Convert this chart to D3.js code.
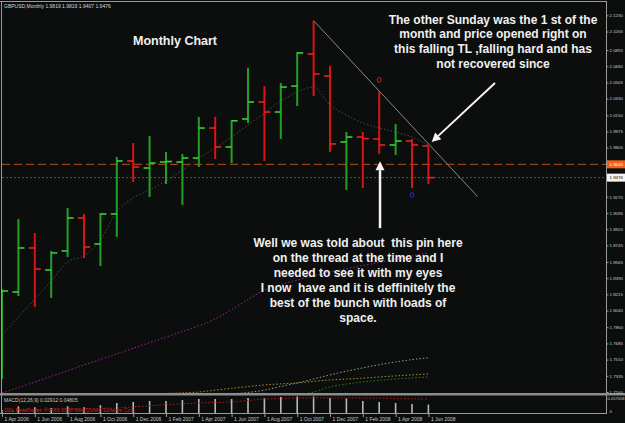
<!DOCTYPE html>
<html>
<head>
<meta charset="utf-8">
<script src="https://cdn.jsdelivr.net/npm/d3@7"></script>
<style>
html,body{margin:0;padding:0;background:#0c0e0d;}
svg{display:block;font-family:"Liberation Sans",Arial,sans-serif;}
</style>
</head>
<body>
<svg id="chart" width="625" height="423"></svg>
<script>
var width = 625;
var height = 423;

// monthly GBPUSD bars, Apr 2006 .. Jun 2008
var months = ["Apr 2006","May 2006","Jun 2006","Jul 2006","Aug 2006","Sep 2006","Oct 2006","Nov 2006","Dec 2006",
              "Jan 2007","Feb 2007","Mar 2007","Apr 2007","May 2007","Jun 2007","Jul 2007","Aug 2007","Sep 2007",
              "Oct 2007","Nov 2007","Dec 2007","Jan 2008","Feb 2008","Mar 2008","Apr 2008","May 2008","Jun 2008"];
var opens  = [1.7390,1.8241,1.8716,1.8478,1.8684,1.9040,1.8759,1.9083,1.9656,1.9580,1.9645,1.9645,1.9688,2.0012,
              1.9807,2.0110,2.0293,2.0185,2.0465,2.0812,2.0574,1.9861,1.9915,1.9894,1.9829,1.9872,1.9819];
var highs  = [1.8270,1.9029,1.8878,1.8684,1.9148,1.9083,1.9094,1.9699,1.9850,1.9926,1.9753,1.9731,2.0131,2.0131,
              2.0100,2.0661,2.0465,2.0498,2.0833,2.1172,2.0682,1.9969,1.9969,2.0412,2.0056,1.9894,1.9819];
var lows   = [1.7300,1.8197,1.8079,1.8176,1.8619,1.8608,1.8521,1.8835,1.9429,1.9267,1.9407,1.9181,1.9591,1.9677,
              1.9634,2.0066,1.9656,1.9894,2.0250,2.0358,1.9753,1.9343,1.9364,1.9732,1.9721,1.9364,1.9407];
var closes = [1.8251,1.8716,1.8489,1.8663,1.9040,1.8727,1.9083,1.9656,1.9591,1.9634,1.9650,1.9688,2.0012,1.9807,
              2.0090,2.0293,2.0185,2.0455,2.0823,2.0596,1.9840,1.9915,1.9898,1.9829,1.9872,1.9829,1.9476];

// indicator lines (one value per month)
var maFast   = [1.7776,1.7970,1.8165,1.8360,1.8565,1.8630,1.8802,1.9105,1.9256,1.9343,1.9440,1.9559,1.9688,1.9796,
                1.9915,2.0045,2.0174,2.0304,2.0401,2.0455,2.0261,2.0153,2.0066,2.0012,1.9969,1.9915,1.9829];
var maPurple = [1.7149,1.7207,1.7268,1.7329,1.7390,1.7452,1.7512,1.7572,1.7632,1.7693,1.7753,1.7814,1.7875,1.7950,
                1.8050,1.8160,1.8260,1.8320,1.8370,1.8414,1.8457,1.8491,1.8526,1.8560,1.8595,1.8630,1.8664];
var maGray   = [1.660,1.665,1.670,1.675,1.680,1.685,1.690,1.695,1.700,1.704,1.707,1.709,1.711,1.713,
                1.714,1.7155,1.7180,1.7220,1.7258,1.7300,1.7345,1.7385,1.7420,1.7455,1.7485,1.7510,1.7530];
var maYellow = [1.690,1.693,1.696,1.699,1.702,1.705,1.708,1.710,1.712,1.7135,1.7145,1.7150,1.7160,1.7180,
                1.7200,1.7218,1.7236,1.7248,1.7258,1.7275,1.7290,1.7300,1.7310,1.7322,1.7334,1.7345,1.7355];
var maGreen  = [1.680,1.682,1.684,1.686,1.688,1.690,1.692,1.694,1.696,1.698,1.700,1.702,1.704,1.706,
                1.708,1.709,1.710,1.711,1.7125,1.7160,1.7215,1.7245,1.7270,1.7285,1.7300,1.7312,1.7323];

// MACD(12,26,9) sub window
var macdHist   = [0.0100,0.0230,0.0200,0.0170,0.0230,0.0200,0.0270,0.0346,0.0380,0.0415,0.0415,0.0450,0.0484,0.0484,
                  0.0484,0.0519,0.0519,0.0554,0.0571,0.0571,0.0519,0.0505,0.0415,0.0380,0.0346,0.0310,0.02912];
var macdSignal = [0.0050,0.0080,0.0100,0.0120,0.0140,0.0150,0.0160,0.0173,0.0210,0.0250,0.0290,0.0320,0.0346,0.0365,
                  0.0380,0.0430,0.0484,0.0500,0.0520,0.0520,0.0520,0.0520,0.0520,0.0515,0.0500,0.0490,0.04805];

// axis labels
var priceTicks = [2.1230,2.1055,2.0855,2.0680,2.0505,2.0330,2.0150,1.9975,1.9800,1.9270,1.9095,1.8920,1.8745,
                  1.8565,1.8390,1.8215,1.8040,1.7860,1.7685,1.7510,1.7335,1.7160];
var dateTickIdx = [0,2,4,6,8,10,12,14,16,18,20,22,24,26];
var levelLine = 1.9620;   // orange dashed line
var bidPrice = 1.9476;

var svg = d3.select("#chart");

// layout
var plotLeft = 2, plotRight = 606;
var mainTop = 2, mainBottom = 393;
var subTop = 396, subBottom = 413;
var axisFont = 4.4;

var x = d3.scaleLinear().domain([0, 26]).range([2, 428.4]);
var y = d3.scaleLinear().domain([1.7160, 2.1230]).range([392, 15.3]);
var ym = d3.scaleLinear().domain([0, 0.057058]).range([413, 396.5]);

svg.append("rect").attr("width", width).attr("height", height).attr("fill", "#0c0e0d");

var defs = svg.append("defs");
defs.append("clipPath").attr("id", "mainClip").append("rect")
    .attr("x", plotLeft).attr("y", mainTop).attr("width", plotRight - plotLeft).attr("height", mainBottom - mainTop);
defs.append("clipPath").attr("id", "subClip").append("rect")
    .attr("x", plotLeft).attr("y", subTop).attr("width", plotRight - plotLeft).attr("height", subBottom - subTop);

var main = svg.append("g").attr("clip-path", "url(#mainClip)");

// level lines
main.append("line").attr("x1", plotLeft).attr("x2", plotRight)
    .attr("y1", y(levelLine)).attr("y2", y(levelLine))
    .attr("stroke", "#b8501e").attr("stroke-width", 1).attr("stroke-dasharray", "8,4");
main.append("line").attr("x1", plotLeft).attr("x2", plotRight)
    .attr("y1", y(bidPrice)).attr("y2", y(bidPrice))
    .attr("stroke", "#555").attr("stroke-width", 1).attr("stroke-dasharray", "2,2");

// moving averages
function maLine(vals, color) {
  var line = d3.line().curve(d3.curveMonotoneX).x(function(d, i){ return x(i); }).y(function(d){ return y(d); });
  main.append("path").attr("d", line(vals)).attr("fill", "none")
      .attr("stroke", color).attr("stroke-width", 1).attr("stroke-dasharray", "1.5,2");
}
maLine(maFast, "#4a4a4a");
maLine(maPurple, "#a020a0");
maLine(maGray, "#9a9a9a");
maLine(maYellow, "#b09018");
maLine(maGreen, "#2a7a2a");

// trend line from the Nov 2007 high through the Mar 2008 high
var tl0 = {i: 19, p: highs[19]}, tl1 = {i: 23, p: highs[23]};
var tlSlope = (tl1.p - tl0.p) / (tl1.i - tl0.i);
var tlEnd = 29;
main.append("line")
    .attr("x1", x(tl0.i)).attr("y1", y(tl0.p))
    .attr("x2", x(tlEnd)).attr("y2", y(tl0.p + tlSlope * (tlEnd - tl0.i)))
    .attr("stroke", "#8a8a8a").attr("stroke-width", 1);

// OHLC bars
var bars = months.map(function(m, i){
  return {i: i, o: opens[i], h: highs[i], l: lows[i], c: closes[i], up: closes[i] >= opens[i]};
});
var barG = main.selectAll("g.bar").data(bars).enter().append("g").attr("class", "bar");
barG.append("line")
    .attr("x1", function(d){ return x(d.i); }).attr("x2", function(d){ return x(d.i); })
    .attr("y1", function(d){ return y(d.h); }).attr("y2", function(d){ return y(d.l); })
    .attr("stroke", function(d){ return d.up ? "#23a023" : "#d81414"; }).attr("stroke-width", 2);
barG.append("line")
    .attr("x1", function(d){ return x(d.i) - 6; }).attr("x2", function(d){ return x(d.i); })
    .attr("y1", function(d){ return y(d.o); }).attr("y2", function(d){ return y(d.o); })
    .attr("stroke", function(d){ return d.up ? "#38d038" : "#ee2020"; }).attr("stroke-width", 1.6);
barG.append("line")
    .attr("x1", function(d){ return x(d.i); }).attr("x2", function(d){ return x(d.i) + 6; })
    .attr("y1", function(d){ return y(d.c); }).attr("y2", function(d){ return y(d.c); })
    .attr("stroke", function(d){ return d.up ? "#38d038" : "#ee2020"; }).attr("stroke-width", 1.6);

// fractal marks
main.append("ellipse").attr("cx", x(23)).attr("cy", y(highs[23]) - 11).attr("rx", 1.8).attr("ry", 2.6)
    .attr("fill", "none").attr("stroke", "#c02020").attr("stroke-width", 1);
main.append("ellipse").attr("cx", x(25)).attr("cy", y(lows[25]) + 7).attr("rx", 1.8).attr("ry", 2.4)
    .attr("fill", "none").attr("stroke", "#2030c0").attr("stroke-width", 1);

// MACD sub window
var sub = svg.append("g").attr("clip-path", "url(#subClip)");
sub.selectAll("line.hist").data(macdHist).enter().append("line").attr("class", "hist")
    .attr("x1", function(d, i){ return x(i); }).attr("x2", function(d, i){ return x(i); })
    .attr("y1", ym(0)).attr("y2", function(d){ return ym(d); })
    .attr("stroke", "#b8b8b8").attr("stroke-width", 1.6);
sub.append("path")
    .attr("d", d3.line().x(function(d, i){ return x(i); }).y(function(d){ return ym(d); })(macdSignal))
    .attr("fill", "none").attr("stroke", "#c01818").attr("stroke-width", 1).attr("stroke-dasharray", "1.5,2");
sub.append("text").attr("x", 4).attr("y", 401.5).attr("font-size", 5).attr("fill", "#c8c8c8")
    .text("MACD(12,26,9) 0.02912 0.04805");
sub.append("text").attr("x", 4).attr("y", 411.5).attr("font-size", 5).attr("fill", "#c82020")
    .text("ODL MetaTrader, \u00a9 2001-2008 MetaQuotes Software Corp.");

// frames
var frame = svg.append("g").attr("fill", "none").attr("stroke", "#9a9a9a").attr("stroke-width", 1);
frame.append("line").attr("x1", 0).attr("x2", plotRight).attr("y1", 1.5).attr("y2", 1.5);
frame.append("line").attr("x1", 1.5).attr("x2", 1.5).attr("y1", 1).attr("y2", subBottom);
frame.append("line").attr("x1", plotRight + 0.5).attr("x2", plotRight + 0.5).attr("y1", 1).attr("y2", subBottom + 1);
frame.append("line").attr("x1", 0).attr("x2", plotRight).attr("y1", subBottom + 0.5).attr("y2", subBottom + 0.5);
svg.append("rect").attr("x", 0).attr("y", mainBottom).attr("width", width).attr("height", 2.5).attr("fill", "#8c8c8c");

// price axis
var axisG = svg.append("g").attr("font-size", axisFont).attr("fill", "#c8c8c8");
axisG.selectAll("text").data(priceTicks).enter().append("text")
    .attr("x", 609.5).attr("y", function(d){ return y(d) + 1.8; })
    .text(function(d){ return d.toFixed(4); });
axisG.selectAll("line").data(priceTicks).enter().append("line")
    .attr("x1", plotRight).attr("x2", plotRight + 2.5)
    .attr("y1", function(d){ return y(d) + 0.5; }).attr("y2", function(d){ return y(d) + 0.5; })
    .attr("stroke", "#9a9a9a");

// price labels for the two lines
svg.append("rect").attr("x", 607).attr("y", y(levelLine) - 4).attr("width", 18).attr("height", 8).attr("fill", "#f06018");
svg.append("text").attr("x", 609.5).attr("y", y(levelLine) + 1.8).attr("font-size", axisFont).attr("fill", "#fff").text(levelLine.toFixed(4));
svg.append("rect").attr("x", 607).attr("y", y(bidPrice) - 4).attr("width", 18).attr("height", 8).attr("fill", "#f4f4f4");
svg.append("text").attr("x", 609.5).attr("y", y(bidPrice) + 1.8).attr("font-size", axisFont).attr("fill", "#000").text(bidPrice.toFixed(4));

// MACD axis labels
svg.append("text").attr("x", 607.5).attr("y", 400).attr("font-size", 4.1).attr("fill", "#c8c8c8").text("0.057058");
svg.append("text").attr("x", 609.5).attr("y", 412.5).attr("font-size", axisFont).attr("fill", "#c8c8c8").text("0");

// date axis
var dateG = svg.append("g");
dateG.selectAll("line").data(dateTickIdx).enter().append("line")
    .attr("x1", function(d){ return x(d) + 0.5; }).attr("x2", function(d){ return x(d) + 0.5; })
    .attr("y1", subBottom).attr("y2", subBottom + 4).attr("stroke", "#9a9a9a");
dateG.selectAll("text").data(dateTickIdx).enter().append("text")
    .attr("x", function(d){ return x(d) + 2.5; }).attr("y", 420.5)
    .attr("font-size", 5).attr("fill", "#c8c8c8")
    .text(function(d){ return "1 " + months[d]; });

// header
svg.append("text").attr("x", 4).attr("y", 7.5).attr("font-size", 5).attr("fill", "#d8d8d8")
    .text("GBPUSD,Monthly  1.9819 1.9819 1.9407 1.9476");

// annotations
var note = svg.append("g").attr("fill", "#f0f0f0").attr("font-weight", "bold");
note.append("text").attr("x", 133).attr("y", 45).attr("font-size", 12.5).text("Monthly Chart");

var topNote = ["The other Sunday was the 1 st of the", "month and price opened right on",
               "this falling TL ,falling hard and has", "not recovered since"];
note.selectAll("text.top").data(topNote).enter().append("text").attr("class", "top")
    .attr("x", 493).attr("y", function(d, i){ return 23.5 + i * 14.8; })
    .attr("text-anchor", "middle").attr("font-size", 12).text(function(d){ return d; });

var pinNote = ["Well we was told about  this pin here", "on the thread at the time and I",
               "needed to see it with my eyes", "I now  have and it is deffinitely the",
               "best of the bunch with loads of", "space."];
note.selectAll("text.pin").data(pinNote).enter().append("text").attr("class", "pin")
    .attr("x", 358).attr("y", function(d, i){ return 246.5 + i * 15; })
    .attr("text-anchor", "middle").attr("font-size", 12)
    .style("white-space", "pre").text(function(d){ return d; });

// arrows (anchored in month/price units)
function arrow(i0, p0, i1, p1, w) {
  var x0 = x(i0), y0 = y(p0), x1 = x(i1), y1 = y(p1);
  var a = Math.atan2(y1 - y0, x1 - x0), len = 9, half = 4.5;
  var bx = x1 - len * Math.cos(a), by = y1 - len * Math.sin(a);
  svg.append("line").attr("x1", x0).attr("y1", y0).attr("x2", bx).attr("y2", by)
      .attr("stroke", "#f4f4f4").attr("stroke-width", w);
  svg.append("path")
      .attr("d", "M" + x1 + "," + y1 + "L" + (bx + half * Math.sin(a)) + "," + (by - half * Math.cos(a)) +
                 "L" + (bx - half * Math.sin(a)) + "," + (by + half * Math.cos(a)) + "Z")
      .attr("fill", "#f4f4f4");
}
arrow(30.06, 2.0498, 26.2, 1.9861, 2);
arrow(23.05, 1.8930, 23.05, 1.9654, 2.5);
</script>
</body>
</html>
